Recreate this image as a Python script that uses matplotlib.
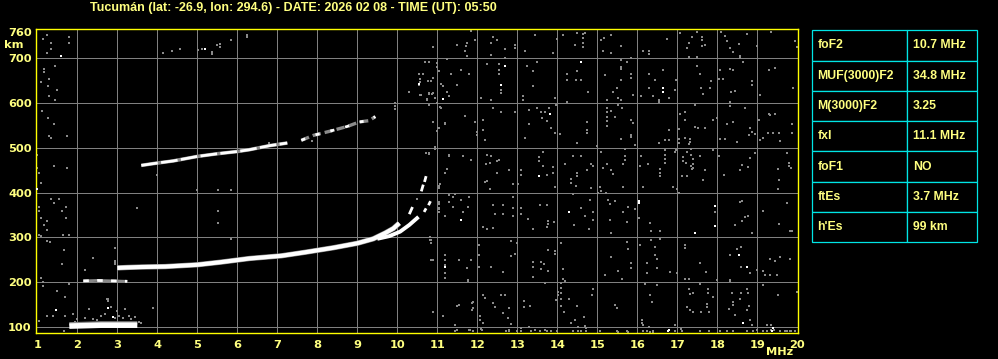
import numpy as np
import matplotlib
matplotlib.use("Agg")
import matplotlib.pyplot as plt
from matplotlib.path import Path

# ---------------- data ----------------
title = "Tucumán (lat: -26.9, lon: 294.6) - DATE: 2026 02 08 - TIME (UT): 05:50"
x_ticks = list(range(1, 21))
y_ticks = [100, 200, 300, 400, 500, 600, 700, 760]
grid_f = list(range(2, 20))
grid_h = [100, 200, 300, 400, 500, 600, 700]

param_names = ["foF2", "MUF(3000)F2", "M(3000)F2", "fxI", "foF1", "ftEs", "h'Es"]
param_values = ["10.7 MHz", "34.8 MHz", "3.25", "11.1 MHz", "NO", "3.7 MHz", "99 km"]

# F-layer ordinary trace (MHz, km)
o_f = [3.0, 3.25, 3.6, 4.2, 5.0, 5.6, 6.3, 7.1, 7.7, 8.4, 9.0, 9.4, 9.7, 9.9, 10.05]
o_h = [232, 233, 234, 235, 239, 245, 253, 259, 267, 277, 287, 297, 310, 320, 332]
# extraordinary branch
x_f = [9.5, 9.8, 10.07, 10.3, 10.53]
x_h = [297, 303, 313, 328, 346]
# broken cusp fragments
frag_f = [[10.3, 10.38], [10.6, 10.65], [10.68, 10.72], [10.67, 10.72], [10.78, 10.83]]
frag_h = [[352, 368], [403, 418], [424, 437], [357, 365], [372, 381]]
# second-hop F trace
f2_f = [3.6, 3.9, 4.4, 5.0, 5.5, 6.0, 6.3, 6.8, 7.25]
f2_h = [461, 465, 471, 481, 487, 492, 496, 505, 511]
f2b_f = [7.6, 7.9, 8.3, 8.75, 9.05, 9.3, 9.45]
f2b_h = [517, 528, 537, 548, 558, 561, 570]
# sporadic E and its multiple
es_f = [1.8, 2.2, 2.6, 3.0, 3.5]
es_h = [102, 103, 104, 104, 104]
es2_f = [2.15, 2.5, 2.9, 3.25]
es2_h = [203, 204, 203, 202]

# scattered echoes / noise (MHz, km)
noise_left = [(1.13,744),(1.23,753),(1.33,735),(1.33,722),(1.23,711),(1.78,747),(1.8,735),(1.17,677),
    (1.17,670),(1.44,684),(1.09,647),(1.3,653),(1.27,639),(1.5,629),(1.3,617),(1.44,608),(1.11,582),
    (1.27,567),(1.42,554),(1.29,526),(1.35,522),(1.73,526),(1.42,460),(1.73,456),(0.98,485),(0.98,456),
    (1.05,444),(1.09,421),(1.33,386),(1.54,386),(1.42,377),(1.71,369),(1.05,369),(1.05,360),(1.61,360),
    (1.71,343),(1.25,336),(1.24,317),(1.17,328),(1.08,343),(1.05,306),(1.79,306),(1.65,306),(1.1,303),
    (1.25,291),(1.31,289),(1.67,271),(1.09,210),(1.13,200),(1.13,192),(1.62,240),(2.18,228),(2.38,254),
    (2.94,248),(2.94,241),(1.8,195),(1.48,180),(1.7,168),(1.9,128),(1.23,125),(1.4,125),(1.68,125),
    (2.76,163),(2.76,159),(2.28,140),(3.88,143),(1.05,113),(1.67,90),(2.73,162),
    (2.6,125),(2.7,130),(2.85,145),(2.95,120),(3.0,135),(3.05,125),(3.15,120),(3.2,140),(3.3,125),
    (3.35,118),(3.45,122),(3.55,112),(3.6,110),(2.4,118),(2.5,115),(2.2,120),(2.0,118),(1.95,112),
    (4.13,712),(4.36,717),(4.57,722),(5.02,718),(5.12,720),(5.36,715),(5.36,710),(5.48,730),(5.57,733),
    (5.57,726),(5.83,740),(6.24,752),(6.24,748)]
noise_mid = [(3.48,365),(3.98,440),(4.98,405),(5.52,405),(5.84,405),(5.52,360),(5.52,333),(5.84,297),
    (2.94,276),(2.94,246),(6.78,511),(6.98,507),(7.86,516),(9.93,593),(9.93,600),(9.93,588),(10.28,626),
    (10.57,619),(10.78,622),(10.88,622),(10.73,609),(10.98,600),(10.8,596),(11.07,591),(10.88,559),
    (11.19,555),(11.02,544),(10.98,537),(10.94,502),(10.78,488),(11.28,484),(10.72,488),(11.19,444),
    (11.23,453),(11.04,415),(11.04,410),(11.04,380),(11.04,365),(10.82,301),(10.82,295),(11.2,261),
    (11.2,239),(11.2,220),(11.18,347),(10.9,250)]
noise_upper = [(11.84,762),(11.5,731),(11.72,727),(11.7,717),(11.73,734),(11.93,742),(11.73,705),
    (10.88,725),(12.38,748),(12.48,740),(12.33,734),(12.7,722),(12.94,730),(12.94,724),(12.33,708),
    (12.7,702),(13.44,753),(13.18,717),(13.88,712),(13.98,744),(14.13,753),(14.48,757),(14.63,755),
    (14.63,745),(14.63,735),(14.63,725),(14.44,730),(14.7,757),(10.54,665),(10.63,665),(10.57,655),
    (10.57,648),(10.76,649),(10.84,649),(10.88,656),(10.69,693),(10.8,693),(10.98,690),(10.98,680),
    (11.04,672),(11.23,698),(10.29,626),(10.54,641),(10.58,619),(10.78,620),(10.87,620),(10.93,611),
    (10.73,607),(11.09,643),(11.15,638),(11.23,626),(11.29,617),(11.34,666),(11.58,675),(11.79,666),
    (11.48,640),(12.23,687),(12.54,688),(12.55,675),(12.54,665),(12.59,630),(12.59,622),(12.08,611),
    (12.33,608),(13.23,682),(13.38,672),(13.48,692),(13.38,639),(13.13,615),(13.13,608),(14.23,666),
    (14.48,671),(14.23,652),(14.46,652),(14.58,652),(14.78,626),(13.94,611),(14.23,602),
    (11.08,589),(11.03,544),(10.9,559),(11.19,553),(10.98,537),(11.69,572),(11.94,558),(12.13,563),
    (11.98,535),(11.98,528),(12.13,540),(12.19,518),(12.38,589),(12.58,580),(12.94,580),(13.3,585),
    (13.48,589),(13.6,580),(13.7,580),(13.8,589),(13.73,560),(13.62,566),(13.83,544),(13.94,533),
    (13.97,596),(14.06,531),(13.19,522),(13.29,553),(14.48,511),(14.73,557),(14.73,540),(14.73,534),
    (10.79,486),(10.94,498),(11.29,482),(11.63,482),(11.83,473),(12.23,484),(12.33,482),(12.22,464),
    (12.32,467),(12.48,470),(12.54,473),(12.48,443),(12.78,451),(13.09,451),(13.09,440),(13.55,470),
    (13.55,480),(13.63,490),(13.63,460),(13.88,458),(13.88,445),(13.73,440),(14.19,464),(14.38,482),
    (14.58,482),(14.48,445),(14.48,438),(14.83,465),(14.88,460),(14.73,451)]
noise_upper_right = [(15.33,752),(15.08,740),(15.16,746),(15.14,717),(15.33,712),(15.58,727),(15.83,702),
    (16.14,717),(16.28,716),(16.28,710),(16.73,744),(17.08,757),(17.28,734),(17.38,748),(17.48,760),
    (17.63,748),(17.63,740),(17.7,729),(17.63,727),(17.23,724),(17.28,703),(17.48,703),(18.1,760),
    (18.2,751),(18.25,738),(18.31,723),(18.4,714),(18.54,733),(18.58,705),(18.58,700),(18.74,754),
    (18.99,727),(19.34,760),(19.93,738),(19.98,726),(15.58,697),(15.73,692),(15.58,680),(15.58,676),
    (15.83,665),(15.83,656),(15.18,662),(15.58,652),(15.48,634),(15.39,625),(15.24,608),(15.53,611),
    (15.6,608),(15.89,619),(16.28,665),(16.64,675),(16.45,652),(16.29,634),(16.1,617),(16.39,617),
    (16.54,608),(16.54,603),(16.78,611),(16.93,630),(16.97,652),(17.49,682),(17.56,665),(17.85,649),
    (17.6,634),(17.64,621),(17.83,634),(18.04,655),(18.08,675),(18.14,655),(18.33,677),(18.39,675),
    (18.43,628),(18.35,625),(18.64,691),(18.87,649),(18.87,640),(18.31,602),(19.08,619),(19.29,675),
    (19.43,679),(19.89,634),(15.24,590),(15.24,580),(15.24,570),(15.24,560),(15.33,583),(15.43,568),
    (15.24,550),(15.53,595),(15.62,589),(15.83,562),(15.89,556),(15.83,530),(15.83,524),(15.58,521),
    (15.93,507),(16.79,540),(16.68,518),(16.79,518),(16.53,510),(17.08,576),(17.18,580),(17.18,562),
    (17.43,597),(17.45,547),(17.52,544),(17.68,544),(17.89,562),(17.98,566),(17.03,542),(17.04,520),
    (17.04,510),(17.18,522),(17.33,520),(17.33,513),(18.08,521),(18.18,521),(18.25,553),(18.33,593),
    (18.39,558),(18.5,513),(18.68,590),(18.83,544),(18.87,535),(18.79,529),(18.93,531),(19.04,562),
    (19.08,518),(19.14,522),(19.28,576),(19.33,573),(19.43,576),(19.27,533),(19.39,533),(19.54,533),
    (19.58,516),(19.88,553),(19.88,533),(15.0,505),(15.08,490),(15.23,464),(15.15,455),(15.38,441),
    (15.35,451),(15.64,464),(15.7,482),(15.68,498),(15.7,473),(16.1,482),(16.08,460),(16.27,464),
    (16.58,453),(16.68,495),(16.68,485),(16.68,475),(16.68,466),(16.56,445),(16.56,437),(16.95,491),
    (16.97,495),(17.14,480),(17.14,470),(17.23,491),(17.28,509),(17.35,498),(17.35,485),(17.39,475),
    (17.39,465),(17.39,455),(17.21,467),(17.35,460),(17.37,452),(17.24,438),(17.12,438),(17.58,482),
    (17.68,451),(17.89,495),(18.03,481),(18.17,440),(18.63,461),(18.58,451),(18.77,458),(18.81,478),
    (18.93,488),(19.52,452),(19.79,466),(19.79,460),(19.85,455),(19.73,489)]
noise_lower = [(11.07,419),(11.03,411),(11.28,395),(11.44,398),(11.4,391),(11.59,384),(11.65,357),
    (11.3,380),(11.38,369),(11.79,391),(11.77,369),(11.05,375),(11.03,357),(11.05,363),(12.19,423),
    (12.25,426),(12.32,408),(12.15,324),(12.25,318),(12.38,321),(12.4,373),(12.43,352),(12.63,373),
    (12.65,352),(12.9,366),(12.9,347),(12.88,391),(12.88,420),(13.02,420),(13.08,366),(13.1,352),
    (13.26,341),(13.4,319),(13.57,373),(13.73,373),(13.78,337),(13.78,330),(13.92,335),(13.73,323),
    (13.94,413),(14.33,430),(14.35,422),(14.46,415),(14.42,328),(14.6,366),(14.7,349),(14.82,383),
    (14.89,357),(14.88,340),(14.79,320),(14.83,411),(14.4,398),(10.84,294),(10.84,287),(10.84,250),
    (10.5,387),(11.19,260),(11.19,249),(11.2,209),(11.54,249),(11.83,249),(11.73,231),(11.77,203),
    (12.03,283),(12.03,261),(12.03,233),(12.33,233),(12.65,222),(12.84,292),(12.94,262),(12.84,258),
    (13.0,288),(13.4,245),(13.4,235),(13.59,245),(13.59,230),(13.67,241),(13.78,225),(13.78,272),
    (13.94,270),(13.94,263),(14.08,288),(14.15,230),(14.15,208),(13.38,212),(14.03,171),(14.03,178),
    (14.19,202),(10.9,134),(11.15,125),(11.53,149),(11.88,143),(11.88,155),(12.19,165),(12.07,115),
    (12.13,108),(12.44,145),(12.58,172),(12.69,172),(12.63,131),(12.78,143),(12.76,120),(12.85,106),
    (13.17,159),(13.17,145),(13.32,146),(13.3,100),(13.68,198),(13.97,160),(14.08,198),(14.08,188),
    (14.08,176),(14.08,162),(14.08,148),(14.16,133),(14.3,163),(14.5,148),(14.45,115),(14.33,110),
    (14.53,99),(14.7,103),(14.66,122),(14.86,171),(14.88,186),(10.88,134),(11.13,125),(11.5,147),
    (11.76,205),(11.86,153),(11.86,138),(12.15,172),(12.4,154),(12.07,125)]
noise_lower_right = [(15.06,413),(15.08,404),(15.03,399),(15.22,399),(15.27,383),(15.43,382),(15.31,374),
    (15.31,339),(15.33,309),(15.64,357),(15.78,368),(15.93,363),(16.03,344),(15.75,335),(15.63,413),
    (16.14,413),(16.33,332),(16.35,314),(16.58,314),(16.89,413),(16.98,409),(17.03,400),(17.93,357),
    (18.58,379),(18.62,381),(18.76,349),(18.68,346),(18.63,336),(18.45,328),(18.88,311),(19.15,359),
    (19.53,331),(19.73,376),(19.82,314),(19.86,314),(19.52,408),(19.53,428),(17.64,428),(15.35,257),
    (15.18,216),(15.62,208),(15.75,290),(15.78,274),(15.83,242),(15.83,232),(15.53,225),(16.08,284),
    (16.23,244),(16.23,220),(16.35,294),(16.43,279),(16.45,261),(16.48,252),(16.5,232),(16.58,296),
    (16.83,223),(16.98,220),(17.18,283),(17.18,276),(17.18,208),(17.28,208),(17.58,242),(17.72,223),
    (17.98,205),(18.31,206),(18.31,202),(18.33,261),(18.5,275),(18.6,279),(18.6,234),(18.83,220),
    (18.98,227),(19.14,225),(19.33,253),(19.43,248),(19.58,257),(19.18,216),(19.33,216),(19.48,216),
    (19.14,193),(19.81,253),(16.33,171),(16.38,156),(16.48,193),(16.18,197),(15.43,150),(15.48,143),
    (16.13,110),(16.13,116),(16.28,100),(16.95,104),(17.1,96),(17.28,186),(17.31,173),(17.39,175),
    (17.56,197),(17.77,186),(17.77,175),(17.73,152),(17.73,145),(17.89,167),(17.79,134),(17.6,134),
    (17.39,134),(17.25,145),(17.33,138),(18.37,175),(18.39,156),(18.39,149),(18.28,141),(18.58,162),
    (18.6,175),(18.73,186),(18.77,175),(18.78,147),(18.73,138),(18.43,126),(18.81,115),(18.87,104),
    (19.35,104),(19.23,104),(19.98,179),(19.52,171),(16.14,104)]
noise_bottom = [(12.72,92),(12.8,92),(12.98,92),(13.1,92),(13.1,98),(13.35,92),(13.56,92),(13.73,92),
    (13.85,92),(14.0,92),(14.4,92),(14.52,92),(14.6,92),(14.71,92),(14.71,98),(15.06,92),(15.48,92),
    (15.73,92),(16.15,92),(16.23,92),(16.4,92),(16.94,92),(17.13,92),(17.56,92),(17.8,92),(18.06,92),
    (18.23,92),(18.4,92),(18.73,92),(18.9,92),(18.98,93),(19.15,92),(19.23,92),(19.35,93),(19.42,93),
    (19.56,92),(19.69,92),(19.75,91),(19.81,92),(19.85,91),(19.94,92),(16.31,89),(16.39,89),(15.52,89),
    (15.77,89),(13.44,93),(13.69,93),(12.78,93),(12.11,93),(11.82,93),(11.44,104),(11.48,93),
    (11.43,92),(11.78,93),(11.9,92),(12.09,95)]
noise_white = [(12.7,682),(12.59,640),(11.13,610),(14.59,692),(13.81,575),(10.54,643),(13.55,438),
    (16.64,633),(16.64,626),(11.59,340),(11.19,234),(14.3,357),(16.03,382),(16.03,378),(17.43,311),
    (17.93,371),(17.93,325),(18.54,261),(18.74,234),(16.79,93),(18.64,110),(19.39,98),(19.38,92),
    (16.77,92),(0.98,408),(1.59,705),(5.18,721),(1.47,138),(2.76,142),(2.88,123)]

# ---------------- figure ----------------
BG = "black"
TXT = "#FFFF80"
GRID = "#808080"
GRAY = "#8a8a8a"

fig = plt.figure(figsize=(9.98, 3.59), dpi=100, facecolor=BG)
L, R, T, B = 35.7, 797.7, 29.3, 333.0
ax = fig.add_axes([L / 998, 1 - B / 359, (R - L) / 998, (B - T) / 359])
ax.set_facecolor(BG)
ax.set_xlim(0.96, 20.01)
ax.set_ylim(86.6, 765)

for f in grid_f:
    ax.axvline(f, color=GRID, lw=0.55, zorder=1, antialiased=False)
for h in grid_h:
    ax.axhline(h, color=GRID, lw=0.55, zorder=1, antialiased=False)

# pixel-like marker, a little taller than wide
pix = Path([(-0.36, -0.5), (0.36, -0.5), (0.36, 0.5), (-0.36, 0.5), (-0.36, -0.5)],
           [Path.MOVETO, Path.LINETO, Path.LINETO, Path.LINETO, Path.CLOSEPOLY])

def pts(lst):
    a = np.array(lst, dtype=float)
    return a[:, 0], a[:, 1]

for grp in [noise_left, noise_mid, noise_upper, noise_upper_right, noise_lower,
            noise_lower_right, noise_bottom]:
    fx, hy = pts(grp)
    ax.scatter(fx, hy, s=4.6, marker=pix, color=GRAY, linewidths=0, zorder=2)
fx, hy = pts(noise_white)
ax.scatter(fx, hy, s=4.6, marker=pix, color="white", linewidths=0, zorder=3)

# sporadic E
ax.plot(es_f, [v + 5 for v in es_h], color=GRAY, lw=2.5, zorder=3, solid_capstyle="butt")
ax.plot(es_f, es_h, color="white", lw=4.0, zorder=4, solid_capstyle="butt")
ax.plot(es2_f, es2_h, color=GRAY, lw=2.0, zorder=3, solid_capstyle="butt")
ax.plot(es2_f, es2_h, color="white", lw=2.0, zorder=4, dashes=(2, 3))

# second-hop F
ax.plot(f2_f, f2_h, color=GRAY, lw=2.6, zorder=3, solid_capstyle="butt")
ax.plot(f2_f, f2_h, color="white", lw=2.0, zorder=4, dashes=(6, 1.2))
ax.plot(f2b_f, f2b_h, color=GRAY, lw=2.4, zorder=3, dashes=(2.5, 1.2))
ax.plot(f2b_f, f2b_h, color="white", lw=2.0, zorder=4, dashes=(1.5, 4))

# F trace
ax.plot(o_f, o_h, color=GRAY, lw=3.8, zorder=3, solid_capstyle="butt")
ax.plot(o_f, o_h, color="white", lw=3.0, zorder=4, solid_capstyle="butt")
ax.plot(x_f, x_h, color="white", lw=2.8, zorder=4, solid_capstyle="butt")
for ff, hh in zip(frag_f, frag_h):
    ax.plot(ff, hh, color="white", lw=2.0, zorder=4, solid_capstyle="butt")

for s in ax.spines.values():
    s.set_color("#FFFF00")
    s.set_linewidth(1.0)
ax.set_xticks(x_ticks)
ax.set_yticks(y_ticks)
ax.set_xticklabels([str(v) for v in x_ticks])
ax.set_yticklabels([str(v) for v in y_ticks])
ax.tick_params(axis="both", length=0, colors=TXT, labelsize=8.2)
ax.tick_params(axis="x", pad=5.0)
ax.tick_params(axis="y", pad=2.8)
for lab in ax.get_xticklabels() + ax.get_yticklabels():
    lab.set_fontweight("bold")
    lab.set_family("DejaVu Sans")

fig.text(293.5 / 998, 1 - 10.7 / 359, title, color=TXT, fontsize=9, fontweight="bold",
         family="Liberation Sans", ha="center", va="baseline")
fig.text(13.5 / 998, 1 - 48.3 / 359, "km", color=TXT, fontsize=8.2, fontweight="bold",
         family="DejaVu Sans", ha="center", va="baseline")
fig.text(780 / 998, 1 - 355 / 359, "MHz", color=TXT, fontsize=8.2, fontweight="bold",
         family="DejaVu Sans", ha="center", va="baseline")

# parameter table
tx0, tx1, ty0, ty1 = 812.3, 977.3, 30.3, 242.3
tab_ax = fig.add_axes([tx0 / 998, 1 - ty1 / 359, (tx1 - tx0) / 998, (ty1 - ty0) / 359])
tab_ax.axis("off")
tbl = tab_ax.table(cellText=[[n, v] for n, v in zip(param_names, param_values)],
                   bbox=[0, 0, 1, 1], colWidths=[95 / 165, 70 / 165], cellLoc="left")
tbl.auto_set_font_size(False)
for (r, c), cell in tbl.get_celld().items():
    cell.set_edgecolor("#00E5E5")
    cell.set_facecolor(BG)
    cell.set_linewidth(0.9)
    cell.PAD = 0.053 if c == 0 else 0.077
    t = cell.get_text()
    t.set_color(TXT)
    t.set_fontsize(8.8)
    t.set_fontweight("bold")
    t.set_family("Liberation Sans")

fig.savefig("out.png", dpi=100, facecolor=BG)
